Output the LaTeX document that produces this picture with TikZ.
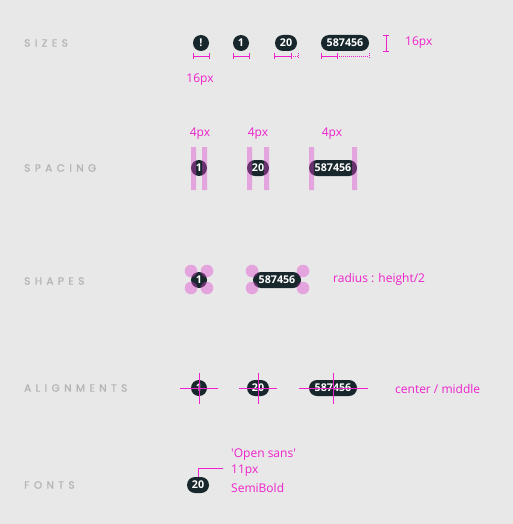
\documentclass[tikz,border=0pt]{standalone}
\usepackage{fontspec}
\setmainfont{Open Sans}
\newfontfamily\labfont[LetterSpace=42, FakeBold=1.3]{Poppins}
\newcommand{\sqmark}{\XeTeXglyph\XeTeXglyphindex "quotesingle"\relax}
\definecolor{bg}{HTML}{E8E8E8}
\definecolor{badgec}{HTML}{17272B}
\definecolor{mag}{HTML}{EE22CC}
\definecolor{labc}{HTML}{B5B5B5}
\definecolor{pinkc}{HTML}{E040D0}
\begin{document}
\begin{tikzpicture}[x=1pt,y=-1pt,
  badge/.style={fill=badgec, text=white, rounded corners=8pt, minimum height=16pt, inner sep=0pt, font=\fontsize{10.7}{12}\selectfont\bfseries},
  seclab/.style={anchor=west, text=labc, inner sep=0pt, font=\fontsize{10.5}{12}\labfont},
  note/.style={text=mag, inner sep=0pt, font=\fontsize{12}{14}\selectfont},
  dimline/.style={draw=mag, line width=0.9pt},
  dimdot/.style={draw=mag, line width=0.8pt, dash pattern=on 1pt off 1pt},
  padbar/.style={fill=pinkc, fill opacity=0.4},
  corner/.style={fill=pinkc, fill opacity=0.4},
  cross/.style={draw=mag, line width=0.9pt}]
\fill[bg] (0,0) rectangle (513,524);
\useasboundingbox (0,0) rectangle (513,524);

% section labels
\node[seclab] (lsizes) at (24,43) {SIZES};
\node[seclab] (lspacing) at (24,168) {SPACING};
\node[seclab] (lshapes) at (24,281) {SHAPES};
\node[seclab] (lalign) at (24,388) {ALIGNMENTS};
\node[seclab] (lfonts) at (24,485) {FONTS};

% ---- SIZES
\node[badge, minimum width=16pt] (s1) at (201,43) {!};
\node[badge, minimum width=16pt] (s2) at (241,43) {1};
\node[badge, minimum width=22pt] (s3) at (286,43) {20};
\node[badge, minimum width=48pt] (s4) at (345,43) {587456};
% dimension lines
\draw[dimline] (193,56) -- (209,56) (193,53) -- (193,59) (209,53) -- (209,59);
\draw[dimline] (233,56) -- (249,56) (233,53) -- (233,59) (249,53) -- (249,59);
\draw[dimline] (274,56) -- (291,56) (274,53) -- (274,59) (291,53) -- (291,59);
\draw[dimdot] (291,56) -- (298,56) (298,53) -- (298,59);
\draw[dimline] (321,56) -- (337,56) (321,53) -- (321,59) (337,53) -- (337,59);
\draw[dimdot] (337,56) -- (369,56) (369,53) -- (369,59);
\draw[dimline] (386,35) -- (386,51) (383,35) -- (389,35) (383,51) -- (389,51);
\node[note, anchor=west] (h16) at (405,43) {16px};
\node[note] (w16) at (200,80) {16px};

% ---- SPACING
\node[badge, minimum width=16pt] (p1) at (199,168) {1};
\node[badge, minimum width=22pt] (p2) at (258,168) {20};
\node[badge, minimum width=48pt] (p3) at (333,168) {587456};
\fill[padbar] (191,147) rectangle (196,190) (202,147) rectangle (207,190);
\fill[padbar] (247,147) rectangle (252,190) (264,147) rectangle (269,190);
\fill[padbar] (309,147) rectangle (314,190) (352,147) rectangle (357,190);
\node[note] (sp1) at (200,134) {4px};
\node[note] (sp2) at (258,134) {4px};
\node[note] (sp3) at (332,134) {4px};

% ---- SHAPES
\node[badge, minimum width=16pt] (h1) at (199,280) {1};
\node[badge, minimum width=48pt] (h2) at (277,280) {587456};
\foreach \cx in {191,207} \foreach \cy in {271,288} \fill[corner] (\cx,\cy) circle (6.3);
\foreach \cx in {252,303} \foreach \cy in {271,288} \fill[corner] (\cx,\cy) circle (6.3);
\node[note, anchor=west] (rad) at (333,279) {radius : height/2};

% ---- ALIGNMENTS
\node[badge, minimum width=16pt] (a1) at (199,388) {1};
\node[badge, minimum width=22pt] (a2) at (258,388) {20};
\node[badge, minimum width=48pt] (a3) at (333,388) {587456};
\draw[cross] (180,388) -- (218,388) (199,373) -- (199,404);
\draw[cross] (239,388) -- (277,388) (258,373) -- (258,404);
\draw[cross] (299,388) -- (368,388) (333,373) -- (333,404);
\node[note, anchor=west] (cm) at (395,389) {center / middle};

% ---- FONTS
\node[badge, minimum width=22pt] (f1) at (198,485) {20};
\coordinate (fk) at (198,468);
\coordinate (fe) at (223,468);
\draw[dimline] (f1.north) -- (fk) -- (fe);
\node[note, anchor=west] (ft1) at (231,455) {\sqmark Open sans\sqmark};
\node[note, anchor=west] (ft2) at (231,471) {11px};
\node[note, anchor=west] (ft3) at (231,488) {SemiBold};
\end{tikzpicture}
\end{document}
